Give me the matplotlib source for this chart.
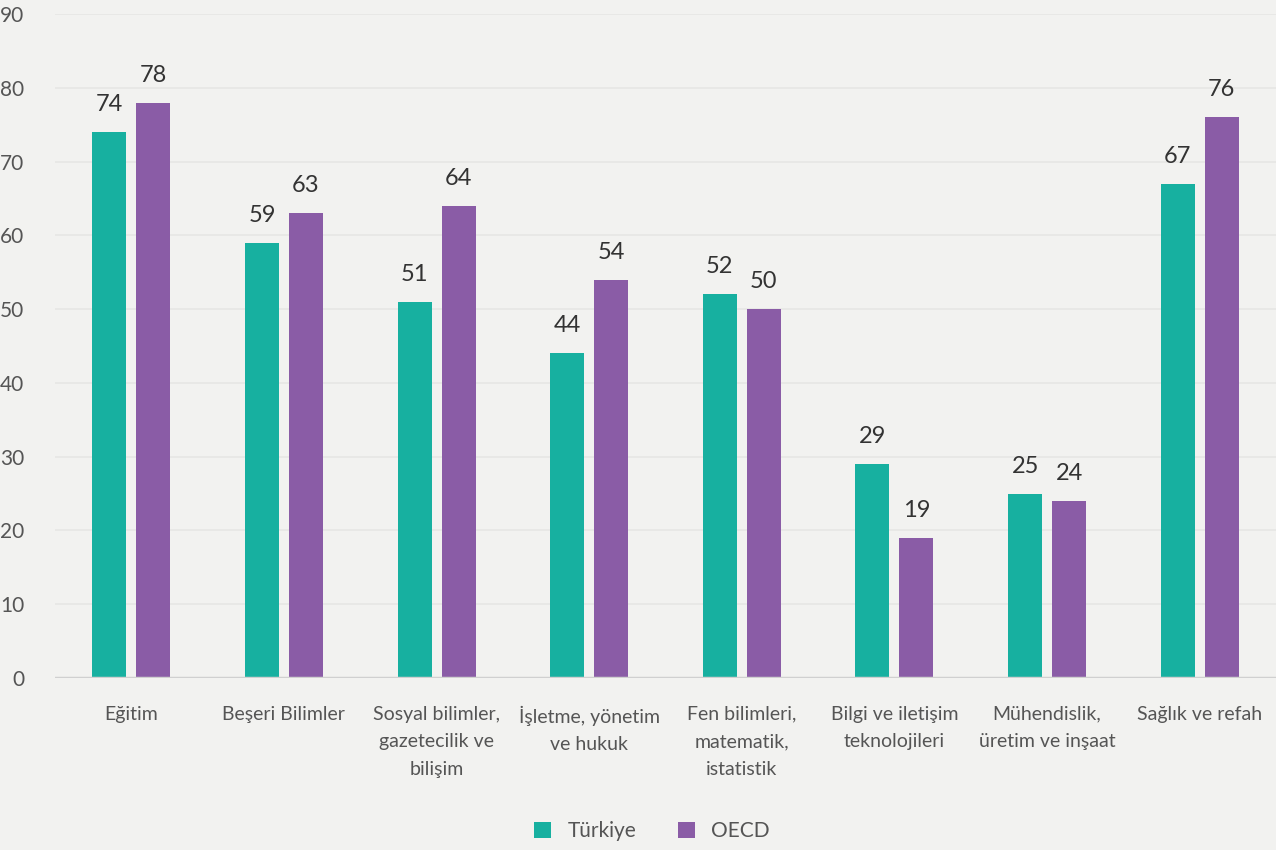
import numpy as np
import matplotlib.pyplot as plt

plt.rcParams['font.family'] = ['Lato', 'DejaVu Sans']

categories = ['Eğitim', 'Beşeri Bilimler', 'Sosyal bilimler,\ngazetecilik ve\nbilişim',
              'İşletme, yönetim\nve hukuk', 'Fen bilimleri,\nmatematik,\nistatistik',
              'Bilgi ve iletişim\nteknolojileri', 'Mühendislik,\nüretim ve inşaat',
              'Sağlık ve refah']
turkiye = [74, 59, 51, 44, 52, 29, 25, 67]
oecd = [78, 63, 64, 54, 50, 19, 24, 76]

bg = '#f2f2f0'
teal = '#17b0a0'
purple = '#8a5ca6'

fig = plt.figure(figsize=(12.76, 8.5), dpi=100, facecolor=bg)
ax = fig.add_axes([0.0431, 0.2024, 0.9569, 0.7811], facecolor=bg)

x = np.arange(len(categories))
w = 0.223
off = 0.144
b1 = ax.bar(x - off, turkiye, w, color=teal, label='Türkiye', zorder=3)
b2 = ax.bar(x + off, oecd, w, color=purple, label='OECD', zorder=3)

for bars, vals in [(b1, turkiye), (b2, oecd)]:
    for r, v in zip(bars, vals):
        ax.text(r.get_x() + r.get_width() / 2, v + 2.3, str(v), ha='center', va='bottom',
                fontsize=17, color='#333333')

ax.set_xlim(-0.5, 7.5)
ax.set_ylim(0, 90)
ax.set_yticks(range(0, 91, 10))
ax.yaxis.grid(True, color='#e6e6e4', linewidth=1.2, zorder=0)
ax.axhline(0, color='#d0d0d0', linewidth=2.5, zorder=4)
for s in ax.spines.values():
    s.set_visible(False)
ax.tick_params(axis='both', length=0, labelsize=15, colors='#555555')
ax.tick_params(axis='y', pad=22)
ax.set_xticks(x)
ax.set_xticklabels(categories, fontsize=14, color='#555555', linespacing=1.75)
ax.tick_params(axis='x', pad=20)

leg = fig.legend(loc='lower center', bbox_to_anchor=(0.511, -0.012), ncol=2, frameon=False,
                 fontsize=15, handlelength=0.8, handleheight=0.8, columnspacing=2.0,
                 handletextpad=0.8, labelcolor='#555555')

fig.savefig('out.png', dpi=100, facecolor=bg)
